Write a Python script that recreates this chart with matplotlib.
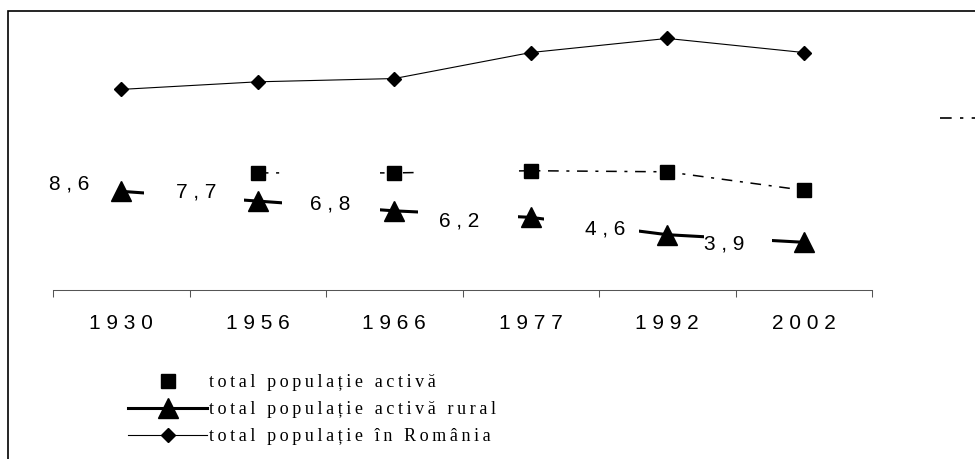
import numpy as np
import matplotlib
matplotlib.use('Agg')
import matplotlib.pyplot as plt
from matplotlib.lines import Line2D
from matplotlib.patches import Rectangle
from matplotlib.offsetbox import AnnotationBbox, DrawingArea

years = ['1930', '1956', '1966', '1977', '1992', '2002']
total_romania = [18.0, 18.7, 19.0, 21.4, 22.7, 21.4]
total_active = [np.nan, 10.3, 10.3, 10.5, 10.4, 8.7]
rural_active = [8.6, 7.7, 6.8, 6.2, 4.6, 3.9]
rural_labels = ['8,6', '7,7', '6,8', '6,2', '4,6', '3,9']
series_names = ['total populație activă',
                'total populație activă rural',
                'total populație în România']

PX = 0.72  # points per pixel at dpi 100

# data label placement, pixels relative to the point (x right, y down)
label_offsets = [(-52, -7), (-62, -9), (-64, -7), (-72, 4), (-62, -6), (-80, 2)]
# white label boxes (like excel) that hide parts of the lines: dx, dy, w, h
label_boxes = [(-52, -7, 80, 40), (-64, -9, 100, 40), (-63, -21, 98, 50),
               (-63, -25, 100, 58), (-76, -6, 95, 40), (-66, 2, 68, 30)]

dashdot = (0, (7, 5, 2, 5))
sans = 'Liberation Sans'
serif = ['Liberation Serif', 'DejaVu Serif']


def spaced(s):
    # letter-spaced legend text, thin spaces between letters
    return ' '.join('\u2009'.join(w) for w in s.split(' ')).replace(' ', '\u2009 \u2009')


fig = plt.figure(figsize=(9.75, 4.59), dpi=100)
ax = fig.add_axes([53 / 975, 1 - 290 / 459, (872 - 53) / 975, (290 - 20) / 459])
x = np.arange(len(years))

l_total, = ax.plot(x, total_romania, color='black', lw=0.8, marker='D', ms=7, zorder=2)
l_active, = ax.plot(x, total_active, color='black', lw=1.1, ls=dashdot, marker='s', ms=9.5, zorder=2)
l_rural, = ax.plot(x, rural_active, color='black', lw=2.2, marker='^', ms=14, zorder=2)

for xi, v, lab, (tx, ty), (bx, by, bw, bh) in zip(x, rural_active, rural_labels, label_offsets, label_boxes):
    ab = AnnotationBbox(DrawingArea(bw * PX, bh * PX), (xi, v), xybox=(bx * PX, -by * PX),
                        boxcoords='offset points', frameon=True, pad=0,
                        bboxprops=dict(fc='white', ec='none'), zorder=3)
    ax.add_artist(ab)
    ax.annotate(' '.join(lab), (xi, v), xytext=(tx * PX, -ty * PX), textcoords='offset points',
                ha='center', va='center', fontsize=15, family=sans, zorder=4)

ax.set_xlim(-0.5, 5.5)
ax.set_ylim(-0.5, 24.4)
ax.set_xticks(np.arange(-0.5, 6, 1))
ax.set_xticklabels([])
ax.set_xticks(x, minor=True)
ax.set_xticklabels([' '.join(y) for y in years], minor=True, fontsize=15, family=sans)
ax.tick_params(axis='x', which='major', length=5, width=0.75, color='#555555', direction='out')
ax.tick_params(axis='x', which='minor', length=0, pad=17.5)
ax.set_yticks([])
for s in ['left', 'right', 'top']:
    ax.spines[s].set_visible(False)
ax.spines['bottom'].set_color('#555555')
ax.spines['bottom'].set_linewidth(0.75)
ax.patch.set_visible(False)

h_active = Line2D([], [], color='black', marker='s', ms=9.5, ls='none')
fig.legend([h_active, l_rural, l_total], [spaced(s) for s in series_names],
           loc='upper left', bbox_to_anchor=(128 / 975, 1 - 374 / 459),
           frameon=False, prop={'family': serif, 'size': 13},
           handlelength=4.4, handletextpad=0.1, labelspacing=0.55,
           borderpad=0, borderaxespad=0, numpoints=1)

# legend of another series, cut by the right edge: only its line sample shows
frag = Line2D([], [], color='black', lw=1.2, ls=dashdot)
fig.legend([frag], [' '], loc='center left',
           bbox_to_anchor=(940 / 975, 1 - 120 / 459), frameon=False,
           prop={'family': serif, 'size': 12},
           handlelength=3, borderpad=0, borderaxespad=0)

fig.patches.append(Rectangle((8 / 975, -0.1), 1.2, 1.1 - 11 / 459, transform=fig.transFigure,
                             fill=False, ec='black', lw=1.2, clip_on=False))

fig.savefig('out.png', dpi=100)
